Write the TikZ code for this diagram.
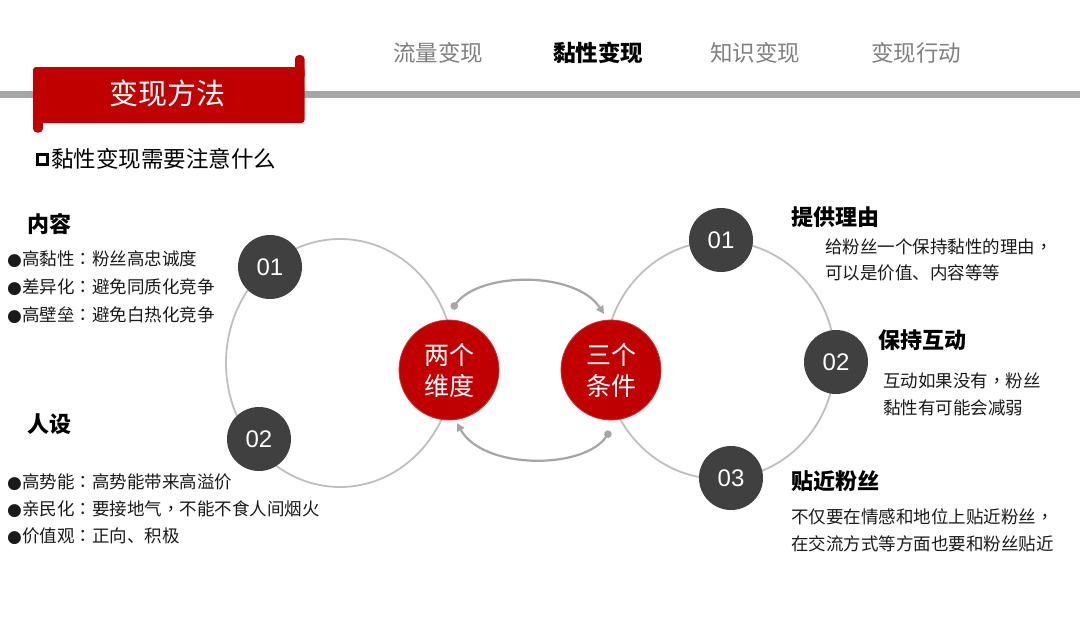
\documentclass[tikz,border=0pt]{standalone}
\usepackage{fontspec}
\setmainfont{Noto Sans CJK SC}
\newfontfamily\tcf{Noto Sans CJK TC}
\newfontfamily\latinf{Liberation Sans}
\newfontfamily\dejavuf{DejaVu Sans}
\usetikzlibrary{arrows.meta}
\definecolor{bannerred}{HTML}{C00000}
\definecolor{linegray}{HTML}{A6A6A6}
\definecolor{ringgray}{HTML}{BFBFBF}
\definecolor{arcgray}{HTML}{A6A6A6}
\definecolor{nodedark}{HTML}{404040}
\definecolor{tabgray}{HTML}{7F7F7F}
\definecolor{textdark}{HTML}{1A1A1A}
\newcommand\blt{{\dejavuf\fontsize{17}{17}\selectfont ●}}
\newcommand\cln{{\tcf ：}}
\newcommand\cma{{\tcf ，}}
\tikzset{
  redc/.style={circle, fill=bannerred, draw=bannerred!80!white, line width=0.8, minimum size=100, inner sep=0, text=white, align=center, font=\fontsize{25}{31}\selectfont},
  numc/.style={circle, fill=nodedark, minimum size=64, inner sep=0, text=white, font=\latinf\fontsize{24}{24}\selectfont},
  ring/.style={draw=ringgray, line width=1.8},
  linkarc/.style={draw=arcgray, line width=2.2, {Circle[length=7.5]}-{Triangle[length=8,width=8]}},
  tab/.style={font=\fontsize{22.5}{22.5}\selectfont, text=tabgray, inner sep=0},
  head/.style={anchor=west, inner sep=0, font=\bfseries\fontsize{22}{22}\selectfont, text=black},
  body/.style={anchor=west, inner sep=0, align=left, text=textdark},
}
\begin{document}
\begin{tikzpicture}[x=1pt,y=-1pt]
\useasboundingbox (0,0) rectangle (1080,625);
\fill[white] (0,0) rectangle (1080,625);
% header rule
\fill[linegray] (0,90.5) rectangle (1080,97.5);
% tabs
\node[tab] (t1) at (438,53) {流量变现};
\node[tab, text=black, font=\bfseries\fontsize{22.5}{22.5}\selectfont] (t2) at (598,53) {黏性变现};
\node[tab] (t3) at (755,53) {知识变现};
\node[tab] (t4) at (916,53) {变现行动};
% banner
\fill[bannerred, rounded corners=4] (295,55) rectangle (304.5,80);
\fill[bannerred, rounded corners=4] (33,110) rectangle (43,132.5);
\fill[bannerred, rounded corners=3] (33,67) rectangle (304.5,123);
\node[text=white, font=\fontsize{29}{29}\selectfont, inner sep=0] (title) at (167,93.5) {变现方法};
% question
\node[draw=black, line width=3, minimum size=10.5, inner sep=0] (qbox) at (42.5,159.5) {};
\node[anchor=west, inner sep=0, font=\fontsize{22.5}{22.5}\selectfont, text=black] (q) at (51,159) {黏性变现需要注意什么};
% rings
\draw[ring] (340,363) ellipse [x radius=114, y radius=124];
\draw[ring] (720,360) ellipse [x radius=115, y radius=119];
% left nodes
\node[numc] (l1) at (270,267) {01};
\node[numc] (l2) at (259,439) {02};
% right nodes
\node[numc] (r1) at (721,240) {01};
\node[numc] (r2) at (836,362) {02};
\node[numc] (r3) at (731,478) {03};
% centre circles
\node[redc] (two) at (449,370) {两个\\维度};
\node[redc] (three) at (611,370) {三个\\条件};
% linking arcs
\coordinate (a1s) at (452,309);
\coordinate (a1e) at (604,314);
\coordinate (a2s) at (610,431);
\coordinate (a2e) at (457,423);
\draw[linkarc] (a1s) .. controls (480,271) and (576,271) .. (a1e);
\draw[linkarc] (a2s) .. controls (584,470) and (483,470) .. (a2e);
% left texts
\node[head] (h1) at (27,224) {内容};
\node[body, font=\fontsize{17.5}{28}\selectfont] (b1) at (7,287) {\blt 高黏性\cln 粉丝高忠诚度\\\blt 差异化\cln 避免同质化竞争\\\blt 高壁垒\cln 避免白热化竞争};
\node[head] (h2) at (27,424) {人设};
\node[body, font=\fontsize{17.5}{27}\selectfont] (b2) at (7,509) {\blt 高势能\cln 高势能带来高溢价\\\blt 亲民化\cln 要接地气\cma 不能不食人间烟火\\\blt 价值观\cln 正向、积极};
% right texts
\node[head] (h3) at (791,217) {提供理由};
\node[body, font=\fontsize{17.5}{26}\selectfont] (d1) at (825,260) {给粉丝一个保持黏性的理由\cma\\可以是价值、内容等等};
\node[head] (h4) at (878,340) {保持互动};
\node[body, font=\fontsize{17.5}{27}\selectfont] (d2) at (883,394.5) {互动如果没有\cma 粉丝\\黏性有可能会减弱};
\node[head] (h5) at (791,481) {贴近粉丝};
\node[body, font=\fontsize{17.5}{27}\selectfont] (d3) at (791,530.5) {不仅要在情感和地位上贴近粉丝\cma\\在交流方式等方面也要和粉丝贴近};
\end{tikzpicture}
\end{document}
